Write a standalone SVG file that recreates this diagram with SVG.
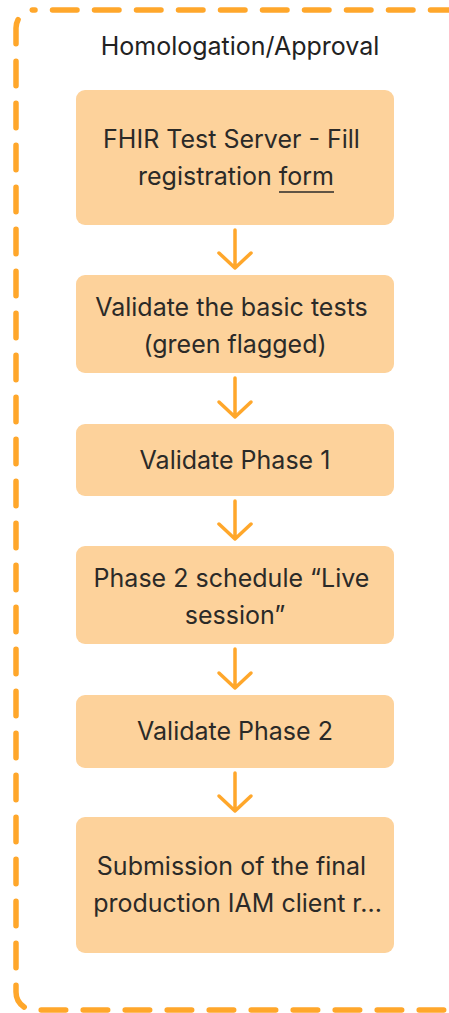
<svg xmlns="http://www.w3.org/2000/svg" width="449" height="1013" viewBox="0 0 449 1013">
  <style>
    .frame { fill: none; stroke: #FFA72B; stroke-width: 5.5; stroke-linecap: round; stroke-dasharray: 24.5 17.5; stroke-dashoffset: 23.5; }
    .node { fill: #FDD29B; }
    .label { font-family: Inter, "Noto Sans", "Liberation Sans", sans-serif; font-size: 25px; fill: #2B2A28; text-anchor: middle; }
    .title { font-family: Inter, "Noto Sans", "Liberation Sans", sans-serif; font-size: 25px; fill: #222222; text-anchor: middle; }
    .arrow { fill: none; stroke: #FFA72B; stroke-width: 3.5; stroke-linecap: round; stroke-linejoin: round; }
  </style>
  <rect width="449" height="1013" fill="#FFFFFF"/>
  <g id="container">
    <rect class="frame" x="16" y="10" width="454" height="1000" rx="18" ry="18"/>
    <text class="title" x="240" y="55">Homologation/Approval</text>
  </g>
  <g id="connectors">
    <path class="arrow" d="M235 230 V268 M219 253 L235 268 L251 253"/>
    <path class="arrow" d="M235 378 V417 M219 402 L235 417 L251 402"/>
    <path class="arrow" d="M235 501 V539 M219 524 L235 539 L251 524"/>
    <path class="arrow" d="M235 649 V688 M219 673 L235 688 L251 673"/>
    <path class="arrow" d="M235 773 V811 M219 796 L235 811 L251 796"/>
  </g>
  <g id="node1">
    <rect class="node" x="76" y="90" width="318" height="135" rx="9"/>
    <text class="label" x="231.5" y="148">FHIR Test Server - Fill</text>
    <text class="label" x="236" y="185">registration form</text>
    <line x1="279" y1="192" x2="334" y2="192" stroke="#2B2A28" stroke-width="1.5"/>
  </g>
  <g id="node2">
    <rect class="node" x="76" y="275" width="318" height="98" rx="9"/>
    <text class="label" x="231.5" y="316">Validate the basic tests</text>
    <text class="label" x="235" y="353">(green flagged)</text>
  </g>
  <g id="node3">
    <rect class="node" x="76" y="424" width="318" height="72" rx="9"/>
    <text class="label" x="235" y="468.5">Validate Phase 1</text>
  </g>
  <g id="node4">
    <rect class="node" x="76" y="546" width="318" height="98" rx="9"/>
    <text class="label" x="231.5" y="587">Phase 2 schedule “Live</text>
    <text class="label" x="235" y="624">session”</text>
  </g>
  <g id="node5">
    <rect class="node" x="76" y="695" width="318" height="73" rx="9"/>
    <text class="label" x="235" y="740">Validate Phase 2</text>
  </g>
  <g id="node6">
    <rect class="node" x="76" y="817" width="318" height="136" rx="9"/>
    <text class="label" x="231.5" y="875">Submission of the final</text>
    <text class="label" x="237.5" y="912">production IAM client r...</text>
  </g>
</svg>
